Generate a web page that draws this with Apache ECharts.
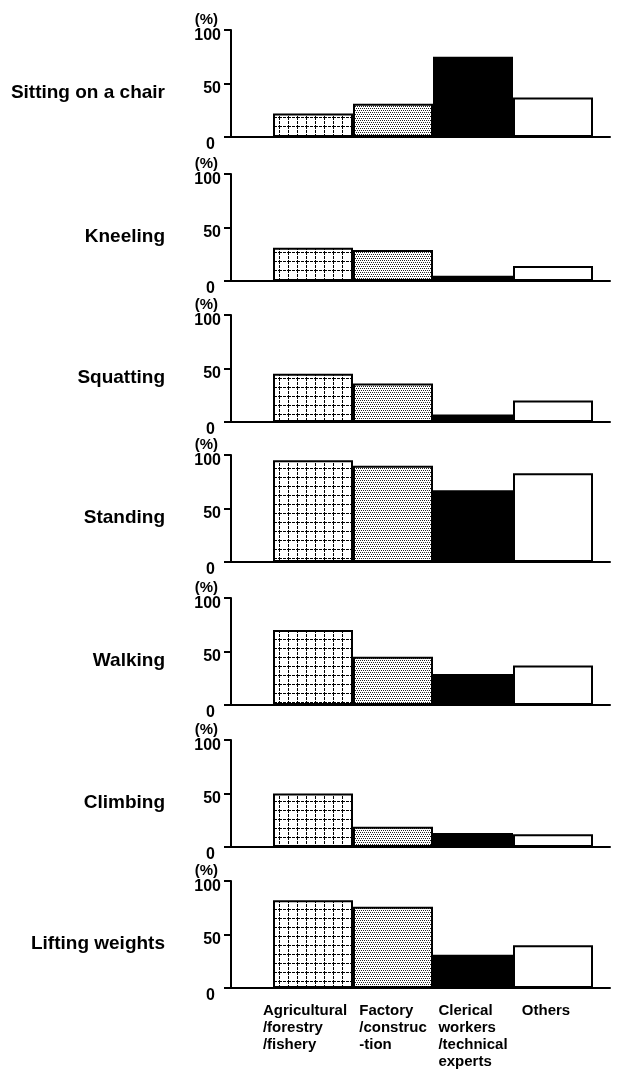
<!DOCTYPE html>
<html>
<head>
<meta charset="utf-8">
<script src="https://cdn.jsdelivr.net/npm/echarts@6/dist/echarts.min.js"></script>
<style>
html,body{margin:0;padding:0;background:#fff;}
#main{width:621px;height:1075px;}
</style>
</head>
<body>
<div id="main"></div>
<script>
// ---- data ----
const activities = ['Sitting on a chair', 'Kneeling', 'Squatting', 'Standing', 'Walking', 'Climbing', 'Lifting weights'];
const occupations = ['Agricultural\n/forestry\n/fishery', 'Factory\n/construc\n-tion', 'Clerical\nworkers\n/technical\nexperts', 'Others'];
const sitting = [22, 31, 75, 37];
const kneeling = [31, 29, 5, 14];
const squatting = [45, 36, 7, 20];
const standing = [95, 90, 67, 83];
const walking = [70, 45, 29, 37];
const climbing = [50, 19, 13, 12];
const lifting = [82, 76, 31, 40];
const yTicks = [0, 50, 100];
const values = [sitting, kneeling, squatting, standing, walking, climbing, lifting];

// ---- layout (pixels) ----
const panelTops = [30, 174, 315, 455, 598, 740, 881];
const panelHeight = 107;
const FONT = "'Liberation Sans', Arial, Helvetica, sans-serif";

// ---- fill patterns ----
function gridPattern() {
  const n = 9;
  const c = document.createElement('canvas');
  c.width = n; c.height = n;
  const g = c.getContext('2d');
  g.fillStyle = '#fff'; g.fillRect(0, 0, n, n);
  g.fillStyle = '#000';
  for (let i = 0; i < n; i++) {
    if (i % 4 !== 3) { g.fillRect(i, 0, 1, 1); g.fillRect(0, i, 1, 1); }
  }
  return { image: c, repeat: 'repeat' };
}
function dotPattern() {
  const c = document.createElement('canvas');
  c.width = 4; c.height = 4;
  const g = c.getContext('2d');
  g.fillStyle = '#fff'; g.fillRect(0, 0, 4, 4);
  g.fillStyle = '#222';
  [[0,0],[2,0],[1,2],[3,2]].forEach(p => g.fillRect(p[0], p[1], 1, 1));
  return { image: c, repeat: 'repeat' };
}
const fills = [gridPattern(), dotPattern(), '#000', '#fff'];

const grids = [], xAxes = [], yAxes = [], series = [], graphics = [];

activities.forEach((act, i) => {
  const top = panelTops[i];
  const last = i === activities.length - 1;
  // axis frame grid (y axis + long baseline)
  grids.push({ left: 231, right: 11, top: top, height: panelHeight, containLabel: false });
  // bar grid
  grids.push({ left: 273, right: 28, top: top, height: panelHeight, containLabel: false });
  const gA = 2 * i, gB = 2 * i + 1;

  xAxes.push({
    type: 'value', gridIndex: gA, min: 0, max: 1,
    axisLine: { show: true, onZero: false, lineStyle: { color: '#000', width: 2 } },
    axisTick: { show: false }, axisLabel: { show: false }, splitLine: { show: false }
  });
  xAxes.push({
    type: 'category', gridIndex: gB, data: occupations,
    axisLine: { show: false }, axisTick: { show: false },
    axisLabel: {
      show: last, interval: 0, margin: 14, align: 'center',
      formatter: function (value, idx) {
        return value.split('\n').map(l => '{c' + idx + '|' + l + '}').join('\n');
      },
      rich: {
        c0: { align: 'left', fontSize: 15, fontWeight: 'bold', fontFamily: FONT, color: '#000', lineHeight: 17, padding: [0, 16, 0, 0] },
        c1: { align: 'left', fontSize: 15, fontWeight: 'bold', fontFamily: FONT, color: '#000', lineHeight: 17 },
        c2: { align: 'left', fontSize: 15, fontWeight: 'bold', fontFamily: FONT, color: '#000', lineHeight: 17 },
        c3: { align: 'left', fontSize: 15, fontWeight: 'bold', fontFamily: FONT, color: '#000', lineHeight: 17, padding: [0, 14, 0, 0] }
      }
    },
    splitLine: { show: false }
  });

  yAxes.push({
    type: 'value', gridIndex: gA, min: yTicks[0], max: yTicks[yTicks.length - 1], interval: yTicks[1] - yTicks[0],
    name: '(%)', nameLocation: 'end', nameGap: 3,
    nameTextStyle: { fontSize: 15, fontWeight: 'bold', fontFamily: FONT, color: '#000', align: 'right', padding: [0, 13, 0, 0] },
    axisLine: { show: true, lineStyle: { color: '#000', width: 2 } },
    axisTick: { show: true, inside: false, length: 7, lineStyle: { color: '#000', width: 2 } },
    axisLabel: {
      margin: 10, fontSize: 16, fontWeight: 'bold', fontFamily: FONT, color: '#000',
      verticalAlign: 'middle', padding: [11, 0, 0, 0],
      formatter: v => v === 0 ? '{z|0}' : String(v),
      rich: { z: { fontSize: 16, fontWeight: 'bold', fontFamily: FONT, color: '#000', padding: [5, 6, 0, 0] } }
    },
    splitLine: { show: false }
  });
  yAxes.push({
    type: 'value', gridIndex: gB, min: yTicks[0], max: yTicks[yTicks.length - 1], show: false, splitLine: { show: false }
  });

  series.push({
    type: 'bar', xAxisIndex: 2 * i + 1, yAxisIndex: 2 * i + 1,
    barCategoryGap: '0%', barGap: '0%',
    data: values[i].map((v, k) => ({
      value: v,
      itemStyle: { color: fills[k], borderColor: '#000', borderWidth: 2 }
    })),
    emphasis: { disabled: true },
    silent: true
  });

  graphics.push({
    type: 'text', x: 165, y: top + 63,
    style: { text: act, align: 'right', verticalAlign: 'middle', fontSize: 19, fontWeight: 'bold', fontFamily: FONT, fill: '#000' }
  });
});

const chart = echarts.init(document.getElementById('main'), null, { renderer: 'canvas' });
chart.setOption({
  animation: false,
  backgroundColor: '#fff',
  grid: grids,
  xAxis: xAxes,
  yAxis: yAxes,
  series: series,
  graphic: graphics
});
</script>
</body>
</html>
